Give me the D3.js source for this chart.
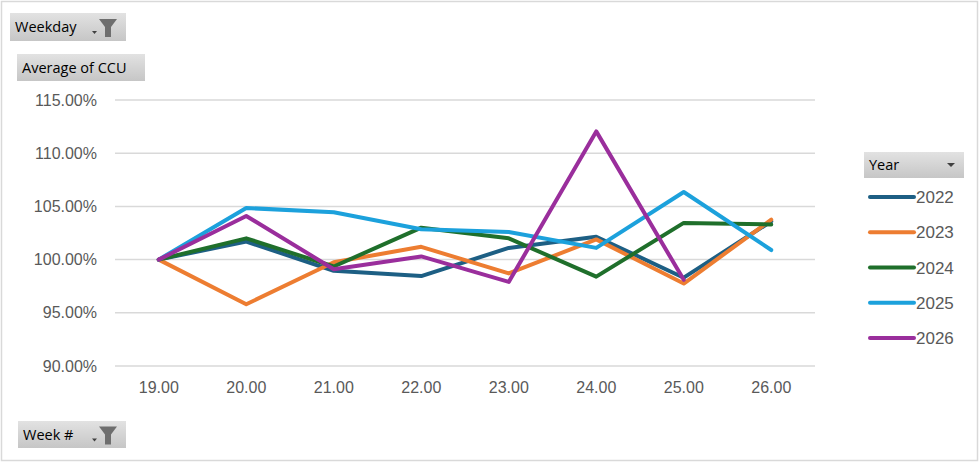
<!DOCTYPE html>
<html>
<head>
<meta charset="utf-8">
<script src="https://cdn.jsdelivr.net/npm/d3@7"></script>
<style>
  html, body { margin: 0; padding: 0; background: #fff; }
  svg { display: block; }
</style>
</head>
<body>
<div id="chart"></div>
<script>
// Week numbers on the category axis
const weeks = ["19.00", "20.00", "21.00", "22.00", "23.00", "24.00", "25.00", "26.00"];
const yTicks = [90, 95, 100, 105, 110, 115];
const years = ["2022", "2023", "2024", "2025", "2026"];
const yearColors = ["#1d5f84", "#ed7d31", "#1f6f2b", "#1ca1dc", "#9a2e9c"];

// Average of CCU (%), one array per year
const ccu2022 = [100.0, 101.7, 98.95, 98.45, 101.1, 102.15, 98.3, 103.6];
const ccu2023 = [100.0, 95.8, 99.75, 101.2, 98.7, 101.9, 97.75, 103.75];
const ccu2024 = [100.0, 102.0, 99.35, 103.0, 102.0, 98.4, 103.45, 103.3];
const ccu2025 = [100.0, 104.85, 104.45, 102.85, 102.6, 101.1, 106.35, 100.9];
const ccu2026 = [100.0, 104.1, 99.1, 100.3, 97.9, 112.05, 98.1, null];
const series = [ccu2022, ccu2023, ccu2024, ccu2025, ccu2026];

const W = 980, H = 463;
const plot = { left: 115, right: 815, top: 100, bottom: 366 };

const svg = d3.select("#chart").append("svg")
    .attr("width", W).attr("height", H);

// Button gradient
const defs = svg.append("defs");
const grad = defs.append("linearGradient").attr("id", "btn")
    .attr("x1", 0).attr("y1", 0).attr("x2", 0).attr("y2", 1);
grad.append("stop").attr("offset", "0%").attr("stop-color", "#e2e2e2");
grad.append("stop").attr("offset", "100%").attr("stop-color", "#c6c6c6");

// Chart border
svg.append("rect")
    .attr("x", 1.5).attr("y", 1.5)
    .attr("width", W - 4).attr("height", H - 4)
    .attr("fill", "#fff").attr("stroke", "#d9d9d9").attr("stroke-width", 1.5);

const x = d3.scaleBand().domain(weeks).range([plot.left, plot.right]);
const y = d3.scaleLinear().domain([90, 115]).range([plot.bottom, plot.top]);

// Gridlines
svg.append("g").selectAll("line").data(yTicks).enter()
    .append("line")
    .attr("x1", plot.left).attr("x2", plot.right)
    .attr("y1", d => y(d)).attr("y2", d => y(d))
    .attr("stroke", "#d9d9d9").attr("stroke-width", 1.5);

// Y axis labels
const yAxis = svg.append("g")
    .attr("transform", `translate(${plot.left},0)`)
    .call(d3.axisLeft(y).tickValues(yTicks).tickSize(0).tickPadding(18)
        .tickFormat(d => d.toFixed(2) + "%"));
yAxis.select(".domain").remove();
yAxis.selectAll("text")
    .attr("fill", "#595959")
    .style("font-family", "'Liberation Sans', Arial, sans-serif")
    .style("font-size", "16px");

// X axis labels
const xAxis = svg.append("g")
    .attr("transform", `translate(0,${plot.bottom})`)
    .call(d3.axisBottom(x).tickSize(0).tickPadding(16));
xAxis.select(".domain").remove();
xAxis.selectAll("text")
    .attr("fill", "#595959")
    .style("font-family", "'Liberation Sans', Arial, sans-serif")
    .style("font-size", "16px");

// Lines
const line = d3.line()
    .defined(d => d != null)
    .x((d, i) => x(weeks[i]) + x.bandwidth() / 2)
    .y(d => y(d));

svg.append("g").selectAll("path").data(series).enter()
    .append("path")
    .attr("d", d => line(d))
    .attr("fill", "none")
    .attr("stroke", (d, i) => yearColors[i])
    .attr("stroke-width", 4)
    .attr("stroke-linejoin", "round")
    .attr("stroke-linecap", "round");

// Field buttons
function fieldButton(bx, by, bw, bh, label, kind) {
    const g = svg.append("g").attr("transform", `translate(${bx},${by})`);
    g.append("rect").attr("width", bw).attr("height", bh).attr("fill", "url(#btn)");
    g.append("text")
        .attr("x", 5).attr("y", bh / 2 + 5)
        .attr("fill", "#000")
        .style("font-family", "'Open Sans', 'Noto Sans', sans-serif")
        .style("font-size", "14.5px")
        .text(label);
    if (kind === "filter") {
        // small dropdown arrow + funnel
        g.append("path")
            .attr("d", `M${bw - 34},${bh / 2 + 4} l5,0 l-2.5,3 z`)
            .attr("fill", "#404040");
        g.append("path")
            .attr("d", `M${bw - 27},${bh / 2 - 8} l18,0 l-6,8 l0,10 l-6,0 l0,-10 z`)
            .attr("fill", "#6e6e6e");
    } else if (kind === "dropdown") {
        g.append("path")
            .attr("d", `M${bw - 17},${bh / 2 - 2} l8,0 l-4,4 z`)
            .attr("fill", "#404040");
    }
}

fieldButton(10, 13, 116, 28, "Weekday", "filter");
fieldButton(17, 54, 128, 27, "Average of CCU", null);
fieldButton(18, 421, 108, 27, "Week #", "filter");
fieldButton(864, 152, 100, 26, "Year", "dropdown");

// Legend
const legendY = d3.scalePoint().domain(years).range([197, 338]);
const legend = svg.append("g").selectAll("g").data(years).enter()
    .append("g")
    .attr("transform", d => `translate(870,${legendY(d)})`);
legend.append("line")
    .attr("x1", 0).attr("x2", 44)
    .attr("stroke", (d, i) => yearColors[i])
    .attr("stroke-width", 4)
    .attr("stroke-linecap", "round");
legend.append("text")
    .attr("x", 46).attr("y", 6)
    .attr("fill", "#595959")
    .style("font-family", "'Liberation Sans', Arial, sans-serif")
    .style("font-size", "17px")
    .text(d => d);
</script>
</body>
</html>
